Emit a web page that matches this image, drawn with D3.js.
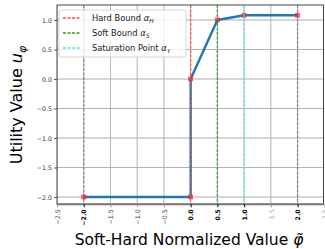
<!DOCTYPE html>
<html>
<head>
<meta charset="utf-8">
<script src="https://cdn.jsdelivr.net/npm/d3@7"></script>
<style>
  body { margin: 0; background: #fff; }
  text { font-family: "DejaVu Sans", sans-serif; }
</style>
</head>
<body>
<div id="chart"></div>
<script>
// utility curve points
var phiValues = [-2.0, 0.0, 0.0, 0.5, 1.0, 2.0];
var utilValues = [-2.0, -2.0, 0.0, 1.0, 1.08, 1.08];

var xTicks = [-2.5, -2.0, -1.5, -1.0, -0.5, 0.0, 0.5, 1.0, 1.5, 2.0, 2.5];
var xBoldTicks = [-2.0, 0.0, 0.5, 1.0, 2.0];
var yTicks = [1.0, 0.5, 0.0, -0.5, -1.0, -1.5, -2.0];

var boundNames = ['Hard Bound', 'Soft Bound', 'Saturation Point'];
var boundSubs = ['H', 'S', 'τ'];
var boundValues = [0.0, 0.5, 1.0];
var boundColors = ['#ff4d4d', '#2e9a2e', '#4de8e8'];
var edgeValues = [-2.0, 2.0];

var W = 325, H = 249;
var pL = 57, pR = 323.5, pT = 5, pB = 204.3;

var x = d3.scaleLinear().domain([-2.5, 2.5]).range([pL, 324.3]);
var y = d3.scaleLinear().domain([-2.124, 1.254]).range([pB, pT]);

var svg = d3.select('#chart').append('svg')
  .attr('width', W)
  .attr('height', H);

var defs = svg.append('defs');
defs.append('clipPath').attr('id', 'plot')
  .append('rect')
  .attr('x', pL).attr('y', pT)
  .attr('width', pR - pL).attr('height', pB - pT);

var g = svg.append('g').attr('clip-path', 'url(#plot)');

// horizontal grid
g.selectAll('.hgrid')
  .data(yTicks).enter()
  .append('line')
  .attr('x1', pL).attr('x2', pR)
  .attr('y1', function(d) { return y(d); })
  .attr('y2', function(d) { return y(d); })
  .attr('stroke', function(d) { return Number.isInteger(d) ? '#d6d6d6' : '#b4b4b4'; })
  .attr('stroke-width', function(d) { return Number.isInteger(d) ? 2 : 1; });

// vertical grid
g.selectAll('.vgrid')
  .data(xTicks).enter()
  .append('line')
  .attr('y1', pT).attr('y2', pB)
  .attr('x1', function(d) { return x(d); })
  .attr('x2', function(d) { return x(d); })
  .attr('stroke', '#b4b4b4')
  .attr('stroke-width', 1);

// gray dashed edges
g.selectAll('.edge')
  .data(edgeValues).enter()
  .append('line')
  .attr('y1', pT).attr('y2', pB)
  .attr('x1', function(d) { return x(d); })
  .attr('x2', function(d) { return x(d); })
  .attr('stroke', '#8a8a8a')
  .attr('stroke-width', 1.3)
  .attr('stroke-dasharray', '3,1.5');

// utility curve
var pts = phiValues.map(function(p, i) { return [p, utilValues[i]]; });
var line = d3.line()
  .x(function(d) { return x(d[0]); })
  .y(function(d) { return y(d[1]); });

g.append('path')
  .datum(pts)
  .attr('d', line)
  .attr('fill', 'none')
  .attr('stroke', '#1f77b4')
  .attr('stroke-width', 2.4)
  .attr('stroke-linejoin', 'round');

g.selectAll('.pt')
  .data(pts).enter()
  .append('rect')
  .attr('x', function(d) { return x(d[0]) - 2; })
  .attr('y', function(d) { return y(d[1]) - 2; })
  .attr('width', 4).attr('height', 4)
  .attr('fill', '#ff2020')
  .attr('fill-opacity', 0.6)
  .attr('stroke', '#ff2020')
  .attr('stroke-opacity', 0.7)
  .attr('stroke-width', 0.8);

// bounds
g.selectAll('.bound')
  .data(boundValues).enter()
  .append('line')
  .attr('y1', pT).attr('y2', pB)
  .attr('x1', function(d) { return x(d); })
  .attr('x2', function(d) { return x(d); })
  .attr('stroke', function(d, i) { return boundColors[i]; })
  .attr('stroke-opacity', 0.75)
  .attr('stroke-width', 1.5)
  .attr('stroke-dasharray', '3,1.5');

// spines
svg.append('rect')
  .attr('x', pL).attr('y', pT)
  .attr('width', pR - pL).attr('height', pB - pT)
  .attr('fill', 'none')
  .attr('stroke', '#444')
  .attr('stroke-width', 1);
svg.append('line')
  .attr('x1', pL).attr('x2', pR)
  .attr('y1', pB).attr('y2', pB)
  .attr('stroke', '#777').attr('stroke-width', 2);

// y axis
var yAxis = d3.axisLeft(y).tickValues(yTicks).tickSize(3).tickPadding(2)
  .tickFormat(function(d) { return d3.format('.1f')(d).replace('-', '\u2212'); });
var ya = svg.append('g').attr('transform', 'translate(' + pL + ',0)').call(yAxis);
ya.select('.domain').remove();
ya.selectAll('.tick line').attr('stroke', '#333').attr('stroke-width', 0.8);
ya.selectAll('.tick text').attr('font-size', 6.3).attr('fill', '#333')
  .attr('font-family', '"DejaVu Sans", sans-serif');

// x axis
var xAxis = d3.axisBottom(x).tickValues(xTicks).tickSize(3).tickPadding(2)
  .tickFormat(function(d) { return d3.format('.1f')(d).replace('-', '\u2212'); });
var xa = svg.append('g').attr('transform', 'translate(0,' + pB + ')').call(xAxis);
xa.select('.domain').remove();
xa.selectAll('.tick line')
  .attr('stroke', function(d) { return xBoldTicks.indexOf(d) >= 0 ? '#000' : '#999'; })
  .attr('stroke-width', 1);
xa.selectAll('.tick text')
  .attr('font-size', 6.3)
  .attr('font-family', '"DejaVu Sans", sans-serif')
  .attr('font-weight', function(d) { return xBoldTicks.indexOf(d) >= 0 ? 'bold' : 'normal'; })
  .attr('fill', function(d) {
    if (xBoldTicks.indexOf(d) >= 0) return '#000';
    return d > 1 ? '#aaa' : '#444';
  })
  .attr('text-anchor', 'end')
  .attr('dy', '0.35em')
  .attr('transform', 'translate(0,5) rotate(-90)')
  .attr('x', 0).attr('y', 0);

// legend
var lg = svg.append('g').attr('transform', 'translate(59,10)');
lg.append('rect')
  .attr('width', 127).attr('height', 47).attr('rx', 2)
  .attr('fill', '#fff').attr('fill-opacity', 0.8)
  .attr('stroke', '#ccc').attr('stroke-width', 0.8);
var items = lg.selectAll('.item')
  .data(boundNames).enter()
  .append('g')
  .attr('transform', function(d, i) { return 'translate(0,' + (8 + i * 15) + ')'; });
items.append('line')
  .attr('x1', 4).attr('x2', 22)
  .attr('stroke', function(d, i) { return boundColors[i]; })
  .attr('stroke-width', 1.3)
  .attr('stroke-dasharray', '3,1.5');
var lt = items.append('text')
  .attr('x', 33).attr('dy', '0.35em')
  .attr('font-size', 8.3).attr('fill', '#222');
lt.append('tspan').text(function(d) { return d + ' '; });
lt.append('tspan').attr('font-style', 'italic').text('α');
lt.append('tspan').attr('font-style', 'italic').attr('font-size', 6)
  .attr('dy', 2).text(function(d, i) { return boundSubs[i]; });

// axis labels
svg.append('text')
  .attr('transform', 'translate(22,105) rotate(-90)')
  .attr('text-anchor', 'middle')
  .attr('font-size', 16).attr('fill', '#000')
  .call(function(t) {
    t.append('tspan').text('Utility Value ');
    t.append('tspan').attr('font-style', 'italic').text('u');
    t.append('tspan').attr('font-style', 'italic').attr('font-size', 11).attr('dy', 4).text('φ');
  });

svg.append('text')
  .attr('x', 189).attr('y', 245)
  .attr('text-anchor', 'middle')
  .attr('font-size', 15.5).attr('fill', '#000')
  .call(function(t) {
    t.append('tspan').text('Soft-Hard Normalized Value ');
    t.append('tspan').attr('font-style', 'italic').text('φ\u0303');
  });
</script>
</body>
</html>
